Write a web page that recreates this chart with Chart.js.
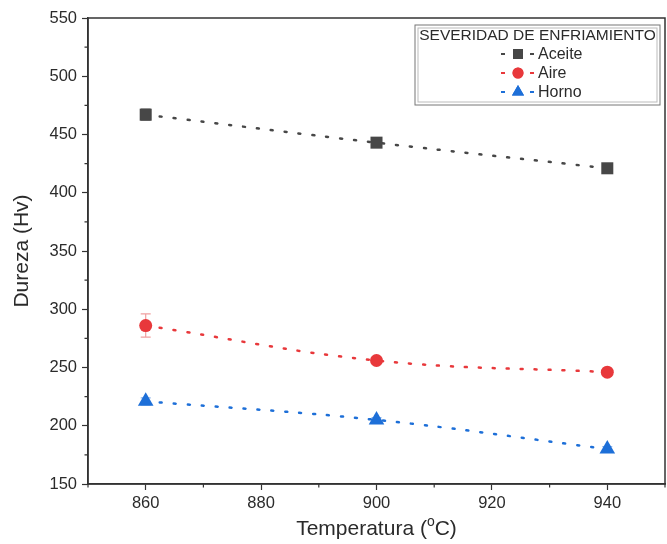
<!DOCTYPE html>
<html>
<head>
<meta charset="utf-8">
<script src="https://cdn.jsdelivr.net/npm/chart.js@4.4.0/dist/chart.umd.min.js"></script>
<style>
  html, body { margin: 0; padding: 0; background: #fff; }
  #wrap { width: 667px; height: 544px; }
</style>
</head>
<body>
<div id="wrap"><canvas id="c" width="667" height="544"></canvas></div>
<script>
// Données
const temperaturas = [860, 900, 940];
const aceite = [467, 443, 421];
const aceiteErr = [5, 2, 2];
const aire = [286, 256, 246];
const aireErr = [10, 2, 2];
const horno = [221, 205, 180];
const hornoErr = [3, 2, 2];

const xTicks = [860, 880, 900, 920, 940];
const xMinor = [850, 870, 890, 910, 930, 950];
const yTicks = [150, 200, 250, 300, 350, 400, 450, 500, 550];
const yMinor = [175, 225, 275, 325, 375, 425, 475, 525];

const legendTitle = 'SEVERIDAD DE ENFRIAMIENTO';
const FONT = '"Liberation Sans", Arial, sans-serif';
const TEXT = '#2b2b2b';

function pts(values) {
    return temperaturas.map((t, i) => ({ x: t, y: values[i] }));
}

const series = [
    { label: 'Aceite', data: aceite, err: aceiteErr, color: '#474747', errColor: '#9a9a9a', style: 'rect', radius: 8.5, legR: 7 },
    { label: 'Aire', data: aire, err: aireErr, color: '#e8383b', errColor: '#f0a0a0', style: 'circle', radius: 6.5, legR: 5.5 },
    { label: 'Horno', data: horno, err: hornoErr, color: '#1d6fd8', errColor: '#8fb5ea', style: 'triangle', radius: 9, legR: 7 }
];

// Barres d'erreur, cadre, graduations mineures, titre X et légende
const decor = {
    id: 'decor',
    beforeDatasetsDraw(chart) {
        const ctx = chart.ctx;
        const xs = chart.scales.x, ys = chart.scales.y;
        ctx.save();
        series.forEach(s => {
            ctx.strokeStyle = s.errColor;
            ctx.lineWidth = 1.2;
            temperaturas.forEach((t, i) => {
                const px = xs.getPixelForValue(t);
                const top = ys.getPixelForValue(s.data[i] + s.err[i]);
                const bot = ys.getPixelForValue(s.data[i] - s.err[i]);
                ctx.beginPath();
                ctx.moveTo(px, top); ctx.lineTo(px, bot);
                ctx.moveTo(px - 5, top); ctx.lineTo(px + 5, top);
                ctx.moveTo(px - 5, bot); ctx.lineTo(px + 5, bot);
                ctx.stroke();
            });
        });
        ctx.restore();
    },
    afterDraw(chart) {
        const ctx = chart.ctx;
        const a = chart.chartArea;
        const xs = chart.scales.x, ys = chart.scales.y;
        ctx.save();
        // cadre
        ctx.strokeStyle = '#333';
        ctx.lineWidth = 1.5;
        ctx.strokeRect(a.left, a.top, a.right - a.left, a.bottom - a.top);
        // graduations mineures
        ctx.lineWidth = 1.2;
        ctx.beginPath();
        yMinor.forEach(v => {
            const py = ys.getPixelForValue(v);
            ctx.moveTo(a.left - 3.5, py); ctx.lineTo(a.left, py);
        });
        xMinor.forEach(v => {
            const px = xs.getPixelForValue(v);
            ctx.moveTo(px, a.bottom); ctx.lineTo(px, a.bottom + 3.5);
        });
        ctx.stroke();

        // titre de l'axe X avec exposant
        ctx.fillStyle = TEXT;
        ctx.textBaseline = 'alphabetic';
        const big = '21px ' + FONT, small = '14px ' + FONT;
        const parts = [['Temperatura (', big, 0], ['o', small, -9], ['C)', big, 0]];
        let w = 0;
        parts.forEach(p => { ctx.font = p[1]; w += ctx.measureText(p[0]).width; });
        let x = (a.left + a.right) / 2 - w / 2;
        const baseY = 535;
        parts.forEach(p => {
            ctx.font = p[1];
            ctx.textAlign = 'left';
            ctx.fillText(p[0], x, baseY + p[2]);
            x += ctx.measureText(p[0]).width;
        });

        // légende
        const lx = 415, ly = 25, lw = 245, lh = 80;
        ctx.strokeStyle = '#777';
        ctx.lineWidth = 1;
        ctx.strokeRect(lx, ly, lw, lh);
        ctx.strokeStyle = '#bbb';
        ctx.strokeRect(lx + 3, ly + 3, lw - 6, lh - 6);
        ctx.font = '15.5px ' + FONT;
        ctx.textAlign = 'center';
        ctx.textBaseline = 'middle';
        ctx.fillStyle = TEXT;
        ctx.fillText(legendTitle, lx + lw / 2, ly + 11);
        ctx.font = '16px ' + FONT;
        series.forEach((s, i) => {
            const cy = ly + 29 + i * 19;
            const cx = 518;
            ctx.strokeStyle = s.color;
            ctx.lineWidth = 2;
            ctx.beginPath();
            ctx.moveTo(cx - 17, cy); ctx.lineTo(cx - 13, cy);
            ctx.moveTo(cx + 12, cy); ctx.lineTo(cx + 16, cy);
            ctx.stroke();
            ctx.fillStyle = s.color;
            Chart.helpers.drawPoint(ctx, {
                pointStyle: s.style, radius: s.legR, rotation: 0,
                borderWidth: 0
            }, cx, cy);
            ctx.fill();
            ctx.fillStyle = TEXT;
            ctx.textAlign = 'left';
            ctx.fillText(s.label, cx + 20, cy + 1);
        });
        ctx.restore();
    }
};

const datasets = series.map(s => ({
    label: s.label,
    data: pts(s.data),
    showLine: true,
    borderColor: s.color,
    backgroundColor: s.color,
    borderWidth: 2.5,
    borderDash: [2, 12],
    borderCapStyle: 'round',
    tension: 0.4,
    pointStyle: s.style,
    pointRadius: s.radius,
    pointBorderWidth: 0,
    pointBackgroundColor: s.color
}));

new Chart(document.getElementById('c'), {
    type: 'scatter',
    data: { datasets: datasets },
    options: {
        responsive: false,
        animation: false,
        layout: { autoPadding: false, padding: { top: 18, right: 2, left: 0, bottom: 0 } },
        plugins: {
            legend: { display: false },
            tooltip: { enabled: false }
        },
        scales: {
            x: {
                type: 'linear',
                min: 850,
                max: 950,
                afterBuildTicks: scale => { scale.ticks = xTicks.map(v => ({ value: v })); },
                afterFit: scale => {
                    scale.height = 60;
                    scale.paddingLeft = 0;
                    scale.paddingRight = 0;
                },
                grid: { drawOnChartArea: false, tickLength: 6, color: '#333', tickWidth: 1.2 },
                border: { color: '#333', width: 1.5 },
                ticks: { color: TEXT, font: { family: FONT, size: 16.5 }, padding: 4, maxRotation: 0 }
            },
            y: {
                type: 'linear',
                min: 150,
                max: 550,
                afterBuildTicks: scale => { scale.ticks = yTicks.map(v => ({ value: v })); },
                afterFit: scale => { scale.width = 88; },
                grid: { drawOnChartArea: false, tickLength: 6, color: '#333', tickWidth: 1.2 },
                border: { color: '#333', width: 1.5 },
                ticks: { color: TEXT, font: { family: FONT, size: 16.5 }, padding: 5 },
                title: {
                    display: true,
                    text: 'Dureza (Hv)',
                    color: TEXT,
                    font: { family: FONT, size: 21 },
                    padding: { top: 10, bottom: 4 }
                }
            }
        }
    },
    plugins: [decor]
});
</script>
</body>
</html>
